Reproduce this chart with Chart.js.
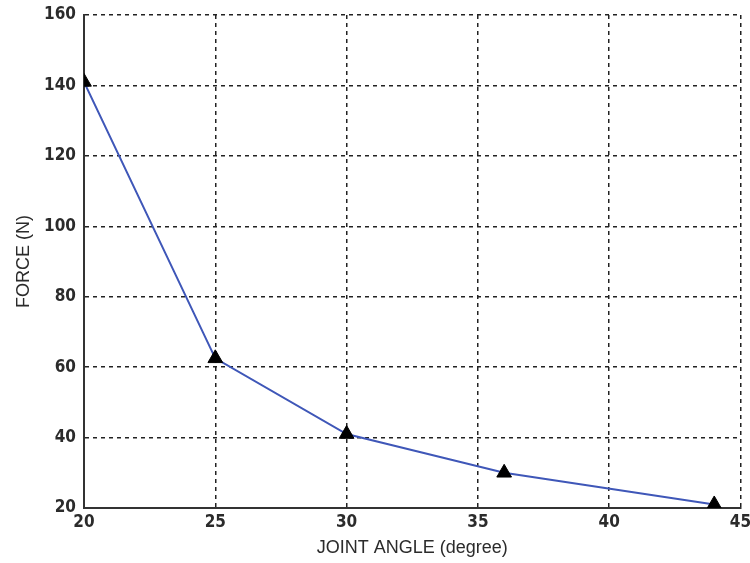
<!DOCTYPE html>
<html>
<head>
<meta charset="utf-8">
<script src="https://cdn.jsdelivr.net/npm/chart.js@4"></script>
<style>
  html, body { margin: 0; padding: 0; background: #fff; }
  #wrap { width: 750px; height: 563px; }
</style>
</head>
<body>
<div id="wrap"><canvas id="chart"></canvas></div>
<script>
// joint angle (degree) vs force (N)
const jointAngles = [20, 25, 30, 36, 44];
const forces = [141, 62.5, 41, 30, 21];
const xTicks = [20, 25, 30, 35, 40, 45];
const yTicks = [20, 40, 60, 80, 100, 120, 140, 160];

const tickFont = "'Liberation Sans Narrow', 'DejaVu Sans Condensed', 'Liberation Sans', Arial, sans-serif";
const titleFont = "'Liberation Sans', Arial, sans-serif";
const textColor = "#2b2b2b";

const ctx = document.getElementById("chart").getContext("2d");
new Chart(ctx, {
  type: "scatter",
  data: {
    datasets: [
      {
        label: "Force",
        data: jointAngles.map((a, i) => ({ x: a, y: forces[i] })),
        showLine: true,
        borderColor: "#3f57b8",
        borderWidth: 2,
        pointStyle: "triangle",
        pointRadius: 8.5,
        pointBackgroundColor: "#000000",
        pointBorderColor: "#000000",
        pointBorderWidth: 1,
      },
    ],
  },
  options: {
    responsive: true,
    maintainAspectRatio: false,
    animation: false,
    layout: {
      padding: { top: 15, right: 9, left: 0, bottom: 0 },
    },
    plugins: {
      legend: { display: false },
      tooltip: { enabled: false },
    },
    scales: {
      x: {
        type: "linear",
        min: 20,
        max: 45,
        afterBuildTicks: (axis) => {
          axis.ticks = xTicks.map((v) => ({ value: v }));
        },
        afterFit: (axis) => {
          axis.height = 55;
          axis.paddingLeft = 0;
          axis.paddingRight = 0;
        },
        title: {
          display: true,
          text: "JOINT ANGLE (degree)",
          color: textColor,
          font: { family: titleFont, size: 18, weight: "normal" },
          padding: { top: 2, bottom: 4 },
        },
        ticks: {
          color: textColor,
          font: { family: tickFont, size: 17, weight: "bold" },
          padding: 4,
          maxRotation: 0,
        },
        grid: {
          color: "#222222",
          lineWidth: 1.5,
          drawTicks: false,
        },
        border: {
          display: true,
          color: "#333333",
          width: 2,
          dash: [4, 4],
        },
      },
      y: {
        type: "linear",
        min: 20,
        max: 160,
        afterBuildTicks: (axis) => {
          axis.ticks = yTicks.map((v) => ({ value: v }));
        },
        afterFit: (axis) => {
          axis.width = 84;
          axis.paddingTop = 0;
          axis.paddingBottom = 0;
        },
        title: {
          display: true,
          text: "FORCE (N)",
          color: textColor,
          font: { family: titleFont, size: 18, weight: "normal" },
          padding: { top: 13, bottom: 0 },
        },
        ticks: {
          color: textColor,
          font: { family: tickFont, size: 17, weight: "bold" },
          padding: 8,
        },
        grid: {
          color: "#222222",
          lineWidth: 1.5,
          drawTicks: false,
        },
        border: {
          display: true,
          color: "#333333",
          width: 2,
          dash: [4, 4],
        },
      },
    },
  },
});
</script>
</body>
</html>
